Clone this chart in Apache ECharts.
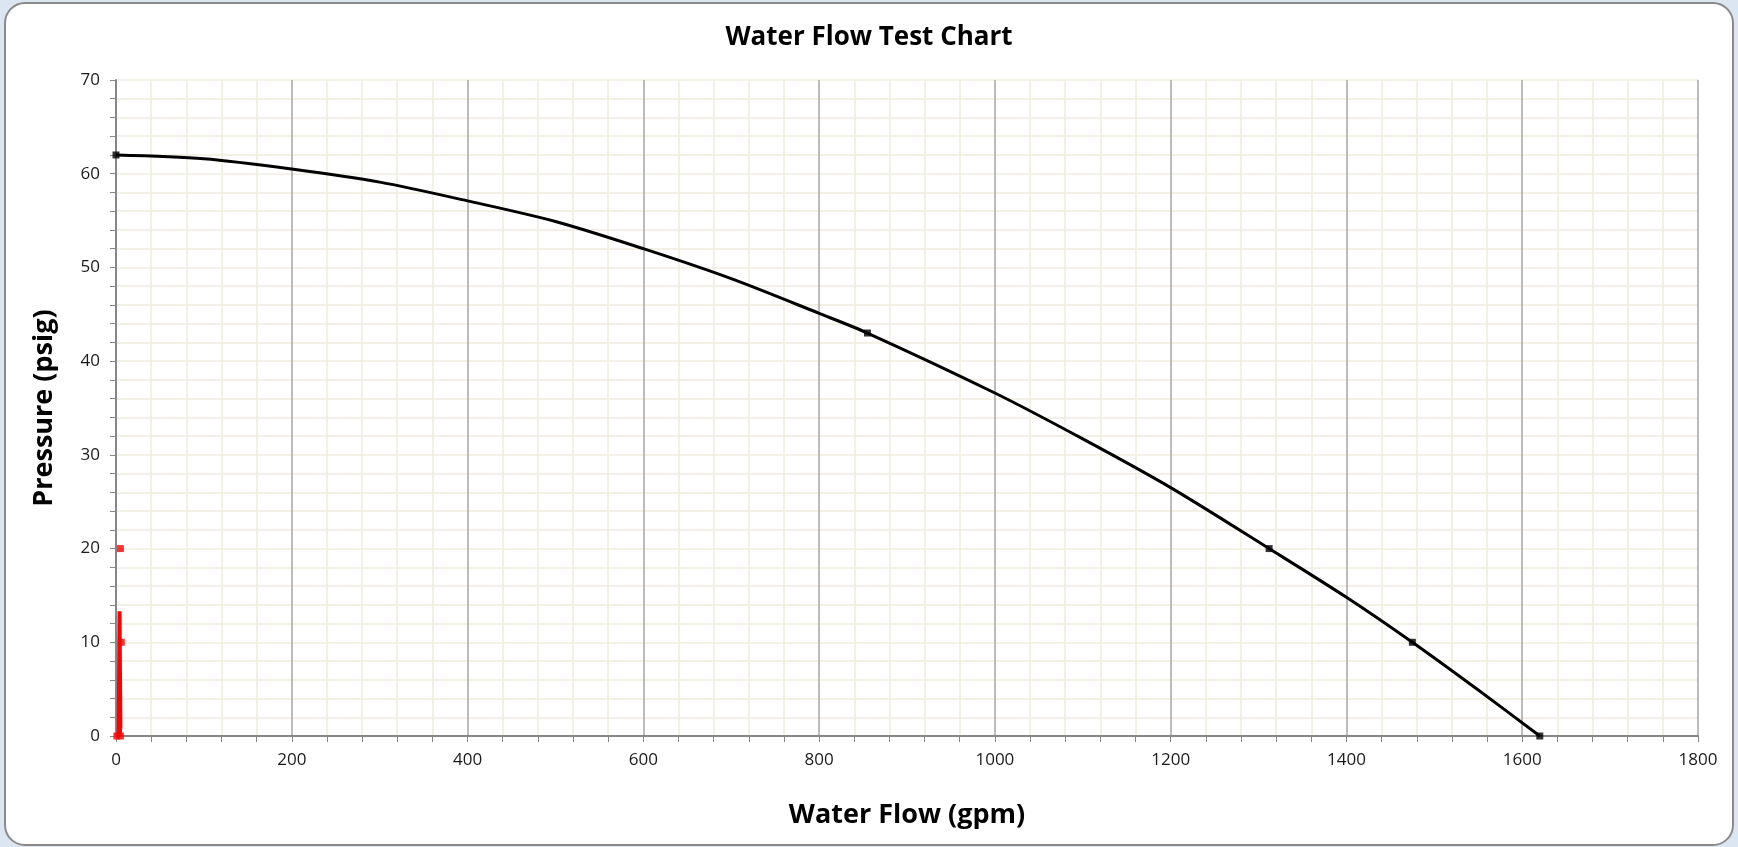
<!DOCTYPE html>
<html>
<head>
<meta charset="utf-8">
<script src="https://cdn.jsdelivr.net/npm/echarts@6/dist/echarts.min.js"></script>
<style>
html,body{margin:0;padding:0;background:#dce6f2;}
#c{width:1738px;height:847px;}
</style>
</head>
<body>
<div id="c"></div>
<script>
// Supply curve (gpm, psig)
const curveFlow     = [0, 100, 200, 300, 400, 500, 600, 700, 800, 855, 1000, 1100, 1200, 1312, 1400, 1475, 1550, 1620];
const curvePressure = [62, 61.6, 60.5, 59.1, 57.1, 54.9, 52.0, 48.8, 45.1, 43, 36.6, 31.7, 26.5, 20, 14.8, 10, 4.9, 0];
// Marked test points on the curve
const markFlow      = [0, 855, 1312, 1475, 1620];
const markPressure  = [62, 43, 20, 10, 0];
// Red series near the origin
const redLineFlow     = [3, 4, 5, 4];
const redLinePressure = [0, 13.3, 1, 0];
const redMarkFlow     = [5, 6, 1, 5];
const redMarkPressure = [20, 10, 0, 0];
// Axis ticks
const xTicks = [0, 200, 400, 600, 800, 1000, 1200, 1400, 1600, 1800];
const yTicks = [0, 10, 20, 30, 40, 50, 60, 70];

const zip = (a, b) => a.map((v, i) => [v, b[i]]);
const FONT = 'Open Sans';

const chart = echarts.init(document.getElementById('c'), null, {renderer: 'canvas'});
chart.setOption({
  backgroundColor: 'transparent',
  animation: false,
  graphic: [{
    type: 'rect', z: -100, zlevel: 0,
    shape: {x: 5, y: 3, width: 1728, height: 842, r: 20},
    style: {fill: '#ffffff', stroke: '#8a8a8a', lineWidth: 2}
  }],
  title: {
    text: 'Water Flow Test Chart',
    left: 'center', top: 20,
    textStyle: {fontFamily: FONT, fontWeight: 'bold', fontSize: 26, color: '#000'}
  },
  grid: {left: 116, right: 40, top: 80, bottom: 111, containLabel: false},
  xAxis: {
    type: 'value', min: xTicks[0], max: xTicks[xTicks.length - 1], interval: 200,
    name: 'Water Flow (gpm)', nameLocation: 'middle', nameGap: 66,
    nameTextStyle: {fontFamily: FONT, fontWeight: 'bold', fontSize: 27, color: '#000'},
    axisLine: {show: true, onZero: false, lineStyle: {color: '#868686', width: 2}},
    axisTick: {show: true, inside: false, length: 6, lineStyle: {color: '#868686', width: 1}},
    minorTick: {show: true, splitNumber: 5, length: 6, lineStyle: {color: '#868686', width: 1}},
    axisLabel: {fontFamily: FONT, fontSize: 17, color: '#1a1a1a', margin: 16, formatter: v => String(v)},
    splitLine: {show: true, lineStyle: {color: '#a6a6a6', width: 1.5}},
    minorSplitLine: {show: true, lineStyle: {color: '#efece0', width: 1.5}}
  },
  yAxis: {
    type: 'value', min: yTicks[0], max: yTicks[yTicks.length - 1], interval: 10,
    name: 'Pressure (psig)', nameLocation: 'middle', nameGap: 58, nameRotate: 90,
    nameTextStyle: {fontFamily: FONT, fontWeight: 'bold', fontSize: 27, color: '#000'},
    axisLine: {show: true, onZero: false, lineStyle: {color: '#868686', width: 2}},
    axisTick: {show: true, inside: false, length: 6, lineStyle: {color: '#868686', width: 1}},
    minorTick: {show: true, splitNumber: 5, length: 6, lineStyle: {color: '#868686', width: 1}},
    axisLabel: {fontFamily: FONT, fontSize: 17, color: '#1a1a1a', margin: 16, formatter: v => String(v)},
    splitLine: {show: true, lineStyle: {color: '#efece0', width: 1.5}},
    minorSplitLine: {show: true, lineStyle: {color: '#efece0', width: 1.5}}
  },
  series: [
    {
      type: 'line', data: zip(curveFlow, curvePressure), smooth: 0.3,
      showSymbol: false, lineStyle: {color: '#000', width: 3, join: 'round'}, z: 3
    },
    {
      type: 'scatter', data: zip(markFlow, markPressure), symbol: 'rect', symbolSize: 7,
      itemStyle: {color: '#000'}, z: 4
    },
    {
      type: 'line', data: zip(redLineFlow, redLinePressure), smooth: false,
      showSymbol: false, lineStyle: {color: '#ff0000', width: 4}, z: 5
    },
    {
      type: 'scatter', data: zip(redMarkFlow, redMarkPressure), symbol: 'rect', symbolSize: 7,
      itemStyle: {color: '#ff0000'}, z: 6
    }
  ]
});
</script>
</body>
</html>
